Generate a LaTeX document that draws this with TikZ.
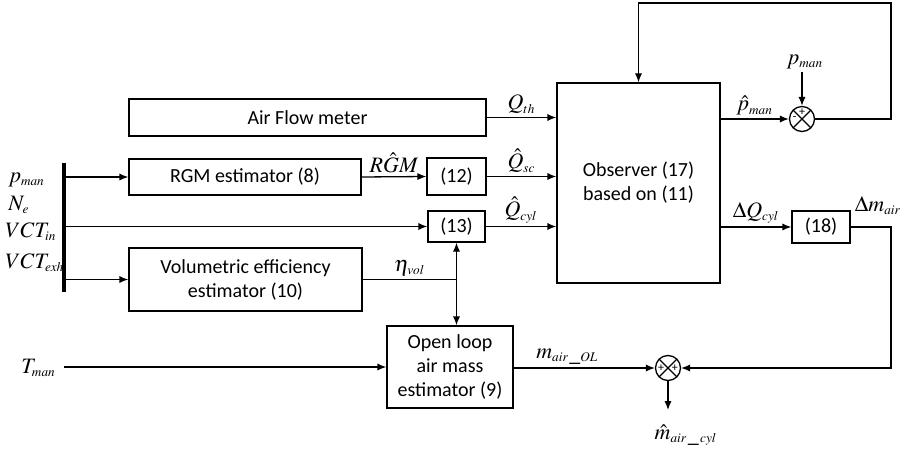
\documentclass[tikz,border=0pt]{standalone}
\usepackage{mathptmx}
\usepackage[no-math]{fontspec}
\setmainfont{Carlito}
\DeclareMathSizes{11}{11}{6.6}{5}
\usetikzlibrary{arrows.meta,positioning}

\begin{document}
\begin{tikzpicture}[x=0.5pt, y=-0.5pt, font=\fontsize{10}{12}\selectfont,
  blk/.style={draw=black, line width=0.65pt, align=center, inner sep=1pt},
  sig/.style={-{Latex[length=4.5pt,width=3.6pt]}, line width=0.65pt},
  wire/.style={line width=0.65pt},
  lbl/.style={inner sep=1.5pt, font=\fontsize{11}{13}\selectfont},
  sgn/.style={inner sep=0pt, font=\fontsize{6}{6}\selectfont},
  summer/.style={draw=black, circle, minimum size=12.5pt, inner sep=0pt, line width=0.65pt,
    path picture={\draw[line width=0.65pt] (path picture bounding box.north west) -- (path picture bounding box.south east)
      (path picture bounding box.north east) -- (path picture bounding box.south west);}}]
  \useasboundingbox (0,0) rectangle (921,449);
  % blocks
  \node[blk, minimum width=178.5pt, minimum height=18.5pt] (afm) at (307.5,117.5) {Air Flow meter};
  \node[blk, minimum width=116pt, minimum height=18pt] (rgm) at (245,177) {RGM estimator (8)};
  \node[blk, minimum width=29.5pt, minimum height=18.5pt] (b12) at (456.5,176.5) {(12)};
  \node[blk, minimum width=28.5pt, minimum height=15.5pt] (b13) at (456.5,226.5) {(13)};
  \node[blk, minimum width=116.5pt, minimum height=31.5pt] (vol) at (245.5,279.5) {Volumetric efficiency\\estimator (10)};
  \node[blk, minimum width=63pt, minimum height=41pt] (olm) at (450,367) {Open loop\\air mass\\estimator (9)};
  \node[blk, minimum width=81.5pt, minimum height=100pt] (obs) at (638.5,183) {Observer (17)\\based on (11)};
  \node[blk, minimum width=29pt, minimum height=16pt] (b18) at (821,227) {(18)};
  \node[summer] (s1) at (802,119) {};
  \node[summer] (s2) at (668,368) {};
  \node[sgn] at ([yshift=3.2pt]s1.center) {+};
  \node[sgn] at ([xshift=-3.6pt]s1.center) {-};
  \node[sgn] at ([xshift=-3.4pt]s2.center) {+};
  \node[sgn] at ([xshift=3.4pt]s2.center) {+};
  % inputs
  \draw[line width=1.6pt] (64,163) coordinate (busT) -- (64,292) coordinate (busB);
  \node[lbl, anchor=west] (pin) at (5,180) {$p_{man}$};
  \node[lbl, anchor=west] (nin) at (5,205) {$N_{e}$};
  \node[lbl, anchor=west] (vin) at (2,232) {$VCT_{in}$};
  \node[lbl, anchor=west] (vex) at (2,263) {$VCT_{exh}$};
  \node[lbl, anchor=west] (tman) at (18,368) {$T_{man}$};
  \coordinate (fb) at (891,3);
  \coordinate (jn) at (b13.south |- vol.east);
  % connectors
  \draw[sig] (busT |- rgm.west) -- (rgm.west);
  \draw[sig] (busT |- b13.west) -- (b13.west);
  \draw[sig] (busT |- vol.west) -- (vol.west);
  \draw[sig] (busT |- olm.west) -- (olm.west);
  \draw[sig] (afm.east) -- (obs.west |- afm.east) node[lbl, midway, above] {$Q_{th}$};
  \draw[sig] (rgm.east) -- (b12.west) node[lbl, midway, above] {$R\hat{G}M$};
  \draw[sig] (b12.east) -- (obs.west |- b12.east) node[lbl, midway, above] {$\hat{Q}_{sc}$};
  \draw[sig] (b13.east) -- (obs.west |- b13.east) node[lbl, midway, above] {$\hat{Q}_{cyl}$};
  \draw[wire] (vol.east) -- (jn) node[lbl, midway, above] {$\eta_{vol}$};
  \draw[sig] (jn) -- (b13.south);
  \draw[sig] (jn) -- (jn |- olm.north);
  \draw[sig] (obs.east |- s1) -- (s1.west) node[lbl, midway, above] {$\hat{p}_{man}$};
  \node[lbl] (ptop) at (805,62) {$p_{man}$};
  \draw[sig] (s1.north |- ptop.south) -- (s1.north);
  \draw[sig] (s1.east) -| (fb) -| (obs.north);
  \draw[sig] (obs.east |- b18) -- (b18.west) node[lbl, midway, above] {$\Delta Q_{cyl}$};
  \draw[sig] (b18.east) -| (fb |- s2) -- (s2.east);
  \node[lbl, anchor=south] at (878,218) {$\Delta m_{air}$};
  \draw[sig] (olm.east |- s2) -- (s2.west) node[lbl, pos=0.38, above] {$m_{air\,\_OL}$};
  \coordinate (mo) at (668,410);
  \draw[sig] (s2.south) -- (mo);
  \node[lbl, anchor=north] at (686,421) {$\hat{m}_{air\,\_\,cyl}$};
\end{tikzpicture}
\end{document}
